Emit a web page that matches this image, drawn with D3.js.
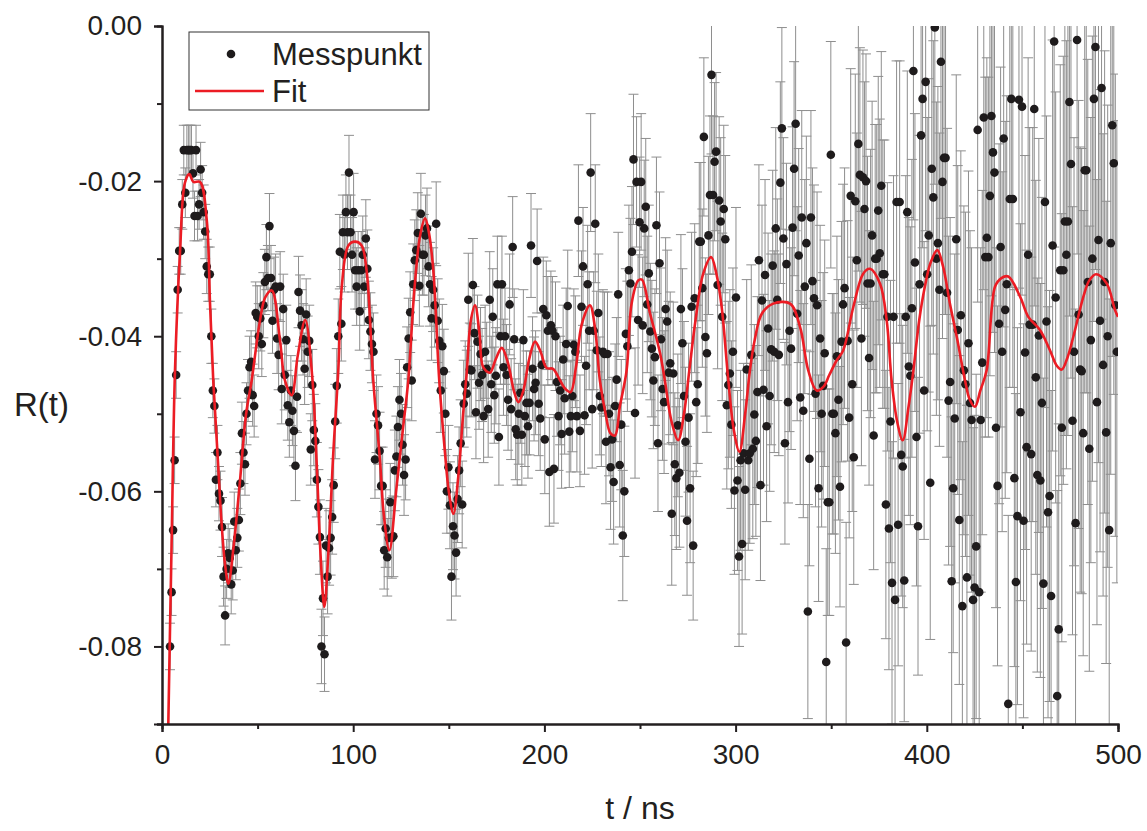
<!DOCTYPE html>
<html>
<head>
<meta charset="utf-8">
<script src="https://cdn.jsdelivr.net/npm/d3@7"></script>
<style>
	body { margin: 0; background: #fff; }
	text { font-family: "Liberation Sans", Arial, Helvetica, sans-serif; fill: #231f20; }
</style>
</head>
<body>
<svg id="chart"></svg>
<script>
const margin = {top: 26, right: 29, bottom: 107, left: 162},
			fullWidth = 1147,
			fullHeight = 831,
			width = fullWidth - margin.left - margin.right,
			height = fullHeight - margin.top - margin.bottom;

// Measurement grid: first sample at 4.2 ns, one sample every 0.8 ns
const t0 = 4.2, dt = 0.8;

// Measured R(t), in units of 1e-3, ten samples (8 ns) per line
const messMilli = [
	-80, -73, -65, -56, -45, -34, -29, -29, -23, -16,
	-21.5, -16, -16, -16, -16, -19, -24.5, -16, -24.5, -23,
	-18.5, -21.5, -24, -26.5, -31, -32, -32, -40, -47, -49,
	-58.5, -55, -60.3, -61.2, -64.6, -71, -76, -70, -68, -68.6,
	-72, -70.2, -63.9, -67.6, -66, -63.7, -59, -52.5, -55, -56.5,
	-50, -47, -44, -43.3, -47.6, -49, -37, -37.5, -40, -37.7,
	-41, -36, -33, -29.8, -32.5, -25.8, -32.5, -38, -34, -33.6,
	-40.3, -42.4, -33.6, -46.8, -36.5, -45, -40.5, -48.9, -51.1, -47,
	-49.6, -52.2, -56.7, -47.8, -34.3, -36.7, -38.6, -40.4, -44.2, -37.2,
	-42, -40.6, -54.6, -46.3, -52.1, -53.5, -58.5, -62, -65.9, -80,
	-73.8, -81, -67, -71, -67.3, -66, -63.3, -59.2, -51, -46.4,
	-40, -29.1, -38.4, -26.6, -29.5, -24, -26.6, -18.9, -26.6, -29.5,
	-24, -31.5, -33.6, -31.5, -36.8, -31.5, -29.5, -33.6, -27.4, -31.3,
	-37.9, -39.4, -41, -42, -55.9, -50, -51.5, -54.8, -59.3, -59.3,
	-67.6, -64.8, -68.5, -66, -61.4, -66, -65.8, -57.3, -55.5, -51.7,
	-48.2, -50, -54, -57.9, -55.9, -44, -40.3, -36.9, -45.7, -33.3,
	-30.2, -28.9, -26.7, -33.5, -24.2, -29.5, -29.5, -27, -26.1, -31,
	-33.3, -37.7, -34, -36, -25.5, -38, -40.6, -47, -41.3, -44.5,
	-50, -60, -56.9, -61.8, -71, -64.5, -65.7, -67.9, -61, -57.3,
	-53.8, -61.7, -48.7, -46.2, -47.4, -35.3, -44.3, -44.4, -33.4, -39.6,
	-49.8, -40.7, -46, -42.3, -45, -50.3, -42, -44.2, -49.4, -35.3,
	-46.2, -37.5, -47.6, -45.1, -33.3, -53, -40, -33.3, -44, -40,
	-45, -48.2, -35.9, -49.4, -28.5, -40.4, -52, -52.7, -50, -47.3,
	-52.7, -40.5, -50.3, -48.6, -51.6, -48.6, -28.3, -44.2, -46.8, -46,
	-30.3, -48.7, -50.6, -43.7, -36.5, -53.3, -37.3, -39.3, -57.5, -38.6,
	-39.3, -57.1, -40, -45.9, -50.3, -47, -52.6, -43, -48, -41,
	-36.1, -52.3, -50.3, -47.7, -41.1, -42, -50.3, -25.1, -52.2, -36.2,
	-31, -50.2, -43.8, -33.3, -39.3, -18.9, -49.4, -39.3, -25.5, -41.8,
	-37, -47.7, -49.2, -42, -42.3, -53.6, -42.3, -50, -56.9, -53.3,
	-58.8, -49, -45.6, -34.6, -56.6, -51.4, -65.7, -60, -39.7, -41.3,
	-31.5, -33.2, -29.1, -17.2, -49.9, -20.1, -37.9, -25.3, -20.1, -38.6,
	-26.1, -23.3, -35.9, -31.9, -39.4, -41.6, -45.7, -42.7, -25.7, -53.8,
	-30.6, -40.4, -46.8, -48.5, -36.5, -38.1, -44.7, -43.5, -62.9, -44.8,
	-56.5, -58.3, -51.5, -57.6, -36.5, -40.9, -47.7, -53.6, -63.8, -50.5,
	-59.6, -36.2, -67, -35.1, -48.5, -46.2, -27.8, -27.8, -33.8, -14.3,
	-40.1, -42.2, -27, -21.8, -6.3, -21.8, -17.5, -16.2, -33.4, -22.5,
	-25.2, -37.5, -23.6, -27.5, -48.9, -46.3, -44.8, -51.4, -42, -59.9,
	-35, -58.6, -68.4, -56, -66.8, -55.1, -59.8, -44.3, -56, -55.1,
	-42.4, -54.5, -50.1, -53.5, -47.2, -30.2, -59.2, -35.4, -46.9, -32.1,
	-51.6, -39, -47.7, -41.7, -30.9, -42, -26.1, -35.3, -42.4, -20.2,
	-13.2, -27.4, -53.8, -30.7, -48.5, -39.3, -41.6, -26, -18.4, -12.6,
	-37.1, -29.6, -47.9, -24.7, -49.6, -33.6, -28, -75.5, -55.8, -24.7,
	-32.9, -35.1, -47.4, -36, -59.6, -40.3, -50, -46.4, -42.2, -82,
	-61.4, -61.4, -16.6, -50, -50, -52.5, -42.6, -48.2, -59.4, -40.7,
	-35.9, -33.8, -79.5, -40.6, -50.5, -21.9, -46.2, -55.6, -22.6, -30.2,
	-15.2, -19.2, -40.3, -19.5, -23.6, -20, -33.2, -42.8, -33.2, -27,
	-52.8, -30, -30, -23.8, -29.3, -20.6, -32, -32, -61.7, -37.5,
	-64.8, -51, -71.8, -37.5, -74, -22.7, -64.3, -22.7, -55.3, -56.8,
	-71.5, -37.5, -24, -43.9, -45.1, -36.4, -5.8, -30.5, -53, -64.5,
	-33.3, -14.1, -9.4, -47, -7.2, -32, -27, -58.9, -18.4, -22.1,
	-0.2, -30, -28, -34, -4.6, -20.1, -17, -17, -34.4, -48.3,
	-45.9, -71.6, -59.6, -50.6, -27.5, -39.2, -63.7, -37.3, -74.8, -44.4,
	-46.2, -71.1, -40.9, -48.6, -50.8, -74, -72.4, -67.1, -13.4, -73,
	-50.8, -43.4, -11.8, -29.8, -27.3, -29.8, -21.9, -11.6, -16.3, -18.9,
	-51.8, -59.3, -38.4, -28.5, -42, -14.5, -36.6, -33.3, -87.4, -22.3,
	-9.4, -22.3, -58.3, -71.7, -63.2, -9.5, -49.8, -10.4, -63.8, -42.1,
	-54.3, -29.5, -38.5, -55.2, -38.5, -10.7, -45.3, -57.9, -39.9, -58.6,
	-48.6, -71.9, -22.7, -38.1, -62.7, -60.6, -73.5, -28.3, -2, -35,
	-86.4, -77.8, -31.5, -51.8, -31.5, -25.2, -29.5, -25.2, -9.8, -17.8,
	-50.9, -42, -64.1, -1.8, -37.2, -44.3, -44.5, -52.5, -18.6, -18.6,
	-33, -54.5, -40.5, -30, -9.4, -2.7, -48.5, -27.6, -38, -8,
	-43.7, -33, -52.4, -40, -65, -28, -12.8, -17.7, -36, -42
];

// Error bar half length (1e-3) for each 10 ns block
const errMilli = [
	3.0, 3.2, 3.5, 3.8, 4.0, 4.2, 4.5, 4.6, 4.8, 4.8,
	5.0, 5.0, 5.2, 5.2, 5.4, 5.6, 6.0, 6.2, 6.5, 6.7,
	7.0, 7.2, 7.6, 8.0, 8.4, 8.8, 9.2, 9.6, 10.2, 10.8,
	11.6, 12.3, 13.0, 13.8, 14.6, 15.5, 16.4, 17.3, 18.2, 19.2,
	20.2, 21.2, 22.2, 23.2, 24.3, 25.4, 26.5, 27.6, 28.7, 29.8
];

// Fit curve: time (ns) and R (1e-3)
const fitT = [
	3.0, 3.3, 5, 6.8, 9.4, 12, 14.3, 16.4, 19.9, 23.4, 25.1, 26.8, 29, 31, 33, 34.7, 37.5, 40.8, 44, 46.9,
	51.3, 54, 57.4, 61.7, 64.3, 67.8, 71, 74.9, 78.5, 81, 83, 84.9, 87, 89.6, 92.2, 94, 97.5, 101, 104.4, 107,
	110.5, 114, 116, 118.9, 122.7, 126, 128.8, 132, 135, 137.6, 139.5, 141.9, 145, 148, 150, 152.4, 155, 157.5, 159.4, 161.5,
	163.7, 166, 168, 171.5, 174.5, 177.7, 181, 184, 186.4, 189, 192, 195.1, 198, 201.2, 204.5, 208.2, 211, 213.7, 216.5, 219.5,
	223.8, 226.5, 229, 232, 234.5, 236.9, 239.5, 243, 245.6, 249.1, 251, 255.2, 260.5, 263, 266.5, 270, 273, 275.8, 279, 283,
	287.2, 290, 292.7, 296.2, 299, 302, 305, 307.5, 310, 313.7, 319.7, 328.5, 333.7, 338, 342.4, 346, 349, 352.9, 356.3, 361.6,
	366.8, 370.3, 375.5, 379, 381.6, 384.5, 387.4, 390.5, 393, 396, 399, 402, 405.5, 408.5, 412.1, 416, 420, 422.5, 425.2, 428,
	431.3, 435.7, 439, 442.6, 448.8, 453.1, 459.2, 464.4, 468, 470.6, 473.5, 476.6, 481.9, 485, 488.5, 494.1, 498.4, 500
];
const fitMilli = [
	-95, -90, -67, -44.4, -29.3, -20.2, -19.1, -20.1, -20.1, -25, -35.7, -45.7, -55, -63.5, -69.5, -71.9, -67, -58.6, -50, -45.7,
	-37.9, -35, -34.1, -40.5, -45.7, -47.6, -42.5, -37.9, -45, -57, -68.5, -74.9, -68, -55, -44.4, -33.7, -28.3, -27.8, -28.3, -31.5,
	-45.7, -56, -63, -67.6, -59.4, -52, -45.7, -34, -27, -24.8, -26.5, -31.5, -45.7, -55, -60, -62.9, -58, -50, -44.6, -38,
	-36, -39.5, -44, -44.7, -43, -41.5, -43.5, -47, -48.5, -47, -43, -40.7, -42, -44.1, -44.2, -45.7, -46.8, -47.2, -44, -38.5,
	-36, -39, -45.7, -50, -52.5, -52.8, -49, -44.4, -35.8, -32.8, -32.7, -37, -42.2, -45.7, -51, -53.4, -50, -44.4, -38, -32,
	-29.8, -32, -36.2, -45.7, -52, -54.9, -50, -44.4, -40.5, -37.1, -35.8, -35.8, -38.8, -44.4, -47, -46.5, -45, -43.1, -41.8, -36.2,
	-31.9, -31.3, -33.2, -37.9, -45.7, -51, -53.4, -49, -44.4, -38, -33.6, -30.5, -28.9, -31, -35.8, -40.5, -45.7, -48.2, -49.1, -47,
	-44.4, -33.6, -32.5, -32.3, -34.9, -37.5, -39.2, -41.8, -43.8, -44.3, -42.8, -40.1, -34.9, -32.8, -32, -33.2, -36.6, -37.5
];

const xTicks = [0, 100, 200, 300, 400, 500],
			xMinor = [50, 150, 250, 350, 450],
			yTicks = [0, -0.02, -0.04, -0.06, -0.08],
			yMinor = [-0.01, -0.03, -0.05, -0.07, -0.09];

const legendItems = ["Messpunkt", "Fit"];

const points = messMilli.map((v, i) => {
	const t = t0 + i * dt;
	return {t: t, r: v / 1000, e: errMilli[Math.min(errMilli.length - 1, Math.floor(t / 10))] / 1000};
});
const fitData = fitT.map((t, i) => ({t: t, r: fitMilli[i] / 1000}));

const x = d3.scaleLinear().domain([0, 500]).range([0, width]);
const y = d3.scaleLinear().domain([-0.09, 0]).range([height, 0]);

const svg = d3.select("#chart")
		.attr("width", fullWidth)
		.attr("height", fullHeight);

const g = svg.append("g")
		.attr("transform", `translate(${margin.left}, ${margin.top})`);

g.append("clipPath")
		.attr("id", "plot-clip")
	.append("rect")
		.attr("width", width)
		.attr("height", height);

const plot = g.append("g").attr("clip-path", "url(#plot-clip)");

// Error bars: vertical line plus caps
const bars = plot.append("g")
		.attr("stroke", "#8e8e8e")
		.attr("stroke-width", 1)
		.attr("fill", "none");

bars.selectAll(".err")
	.data(points)
	.enter()
	.append("path")
		.attr("class", "err")
		.attr("d", d => {
			const cx = x(d.t), y1 = y(d.r + d.e), y2 = y(d.r - d.e);
			return `M${cx},${y1}V${y2}M${cx - 5},${y1}H${cx + 5}M${cx - 5},${y2}H${cx + 5}`;
		});

// Measured points
plot.append("g")
	.selectAll("circle")
	.data(points)
	.enter()
	.append("circle")
		.attr("cx", d => x(d.t))
		.attr("cy", d => y(d.r))
		.attr("r", 4.3)
		.attr("fill", "#1e1b1c");

// Fit curve
const line = d3.line()
		.x(d => x(d.t))
		.y(d => y(d.r))
		.curve(d3.curveCatmullRom.alpha(0.5));

plot.append("path")
		.datum(fitData)
		.attr("fill", "none")
		.attr("stroke", "#ec1c24")
		.attr("stroke-width", 2.6)
		.attr("d", line);

// Axes
const fmt = d => d.toFixed(2);

g.append("g")
		.attr("class", "axis")
		.call(d3.axisLeft(y).tickValues(yMinor).tickSize(5).tickFormat(""));
g.append("g")
		.attr("class", "axis")
		.call(d3.axisLeft(y).tickValues(yTicks).tickSize(8).tickPadding(12).tickFormat(fmt));

g.append("g")
		.attr("class", "axis")
		.attr("transform", `translate(0, ${height})`)
		.call(d3.axisBottom(x).tickValues(xMinor).tickSize(5).tickFormat(""));
g.append("g")
		.attr("class", "axis")
		.attr("transform", `translate(0, ${height})`)
		.call(d3.axisBottom(x).tickValues(xTicks).tickSize(8).tickPadding(12).tickFormat(d3.format("d")));

g.selectAll(".axis path, .axis line")
		.attr("stroke", "#231f20")
		.attr("stroke-width", 2);
g.selectAll(".axis text")
		.attr("font-size", 28)
		.attr("fill", "#231f20");

// Axis titles
svg.append("text")
		.attr("x", 14)
		.attr("y", 404)
		.attr("dy", "0.35em")
		.attr("font-size", 33)
		.text("R(t)");

svg.append("text")
		.attr("x", margin.left + width / 2)
		.attr("y", 808)
		.attr("dy", "0.35em")
		.attr("text-anchor", "middle")
		.attr("font-size", 32)
		.text("t / ns");

// Legend
const legend = svg.append("g")
		.attr("transform", "translate(189, 32)");

legend.append("rect")
		.attr("width", 240)
		.attr("height", 78)
		.attr("fill", "#fff")
		.attr("stroke", "#333")
		.attr("stroke-width", 1);

legend.append("circle")
		.attr("cx", 42)
		.attr("cy", 22)
		.attr("r", 4.3)
		.attr("fill", "#1e1b1c");

legend.append("line")
		.attr("x1", 6)
		.attr("x2", 75)
		.attr("y1", 59)
		.attr("y2", 59)
		.attr("stroke", "#ec1c24")
		.attr("stroke-width", 2.6);

legend.selectAll(".legend-label")
	.data(legendItems)
	.enter()
	.append("text")
		.attr("class", "legend-label")
		.attr("x", 83)
		.attr("y", (d, i) => 22 + i * 37)
		.attr("dy", "0.35em")
		.attr("font-size", 31)
		.text(d => d);
</script>
</body>
</html>
